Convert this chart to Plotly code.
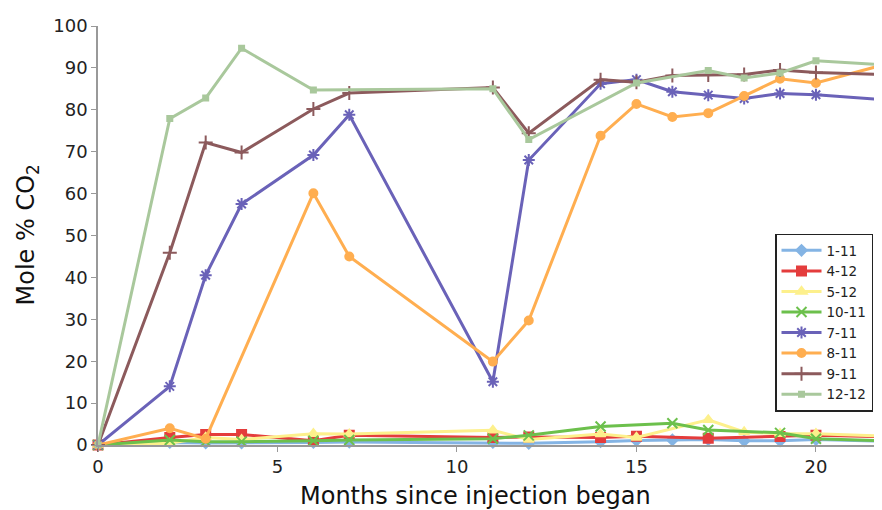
import plotly.graph_objects as go

series_names = ["1-11", "4-12", "5-12", "10-11", "7-11", "8-11", "9-11", "12-12"]

months_1_11 = [0, 2, 3, 4, 6, 7, 11, 12, 14, 15, 16, 17, 18, 19, 20, 22]
co2_1_11 = [0, 0.6, 0.5, 0.5, 0.6, 0.7, 0.6, 0.4, 0.8, 1.1, 1.2, 1.3, 1.0, 1.0, 1.3, 0.9]

months_4_12 = [0, 2, 3, 4, 6, 7, 11, 12, 14, 15, 17, 19, 20, 22]
co2_4_12 = [0, 1.8, 2.5, 2.5, 1.0, 2.3, 1.8, 1.9, 1.8, 2.1, 1.6, 2.0, 2.3, 2.0]

months_5_12 = [0, 2, 3, 4, 6, 7, 11, 12, 14, 15, 17, 18, 19, 20, 22]
co2_5_12 = [0, 0.4, 1.8, 1.3, 2.7, 2.6, 3.5, 1.3, 2.6, 1.8, 6.0, 3.1, 2.7, 2.7, 2.1]

months_10_11 = [0, 2, 3, 4, 6, 7, 11, 12, 14, 16, 17, 19, 20, 22]
co2_10_11 = [0, 1.2, 0.8, 0.8, 1.0, 1.2, 1.5, 2.3, 4.4, 5.2, 3.6, 2.9, 1.5, 1.0]

months_7_11 = [0, 2, 3, 4, 6, 7, 11, 12, 14, 15, 16, 17, 18, 19, 20, 22]
co2_7_11 = [0, 14.0, 40.5, 57.5, 69.2, 78.8, 15.1, 68.0, 86.2, 87.2, 84.3, 83.5, 82.7, 83.9, 83.6, 82.3]

months_8_11 = [0, 2, 3, 6, 7, 11, 12, 14, 15, 16, 17, 18, 19, 20, 22]
co2_8_11 = [0, 4.0, 1.5, 60.1, 45.0, 19.9, 29.7, 73.8, 81.4, 78.3, 79.2, 83.3, 87.4, 86.4, 91.0]

months_9_11 = [0, 2, 3, 4, 6, 7, 11, 12, 14, 15, 16, 17, 18, 19, 20, 22]
co2_9_11 = [0, 45.9, 72.2, 69.8, 80.2, 84.0, 85.3, 74.4, 87.2, 86.6, 88.2, 88.3, 88.4, 89.5, 88.9, 88.4]

months_12_12 = [0, 2, 3, 4, 6, 11, 12, 15, 17, 18, 19, 20, 22]
co2_12_12 = [0, 77.9, 82.8, 94.7, 84.7, 85.0, 72.9, 86.4, 89.4, 87.6, 88.8, 91.7, 90.7]

x_ticks = [0, 5, 10, 15, 20]
y_ticks = [0, 10, 20, 30, 40, 50, 60, 70, 80, 90, 100]

xs = [months_1_11, months_4_12, months_5_12, months_10_11, months_7_11, months_8_11, months_9_11, months_12_12]
ys = [co2_1_11, co2_4_12, co2_5_12, co2_10_11, co2_7_11, co2_8_11, co2_9_11, co2_12_12]

colors = ["#84b4e4", "#e43c3c", "#fdf08c", "#6cc04c", "#6a62b8", "#ffae50", "#8c5a5c", "#a9c89c"]
symbols = ["diamond", "square", "triangle-up", "x-thin-open", "asterisk-open", "circle", "cross-thin-open", "square"]
msizes = [8, 9, 9, 10, 10, 8, 10, 5]

fig = go.Figure()
for name, x, y, c, s, ms in zip(series_names, xs, ys, colors, symbols, msizes):
    fig.add_trace(go.Scatter(
        x=x, y=y, name=name, mode="lines+markers",
        line=dict(color=c, width=3),
        marker=dict(color=c, symbol=s, size=ms, line=dict(color=c, width=2)),
        cliponaxis=False,
    ))

W, H = 882, 510
ML, MR, MT, MB = 90, 8, 7, 73
pw, ph = W - ML - MR, H - MT - MB

fig.update_layout(
    width=W, height=H,
    margin=dict(l=ML, r=MR, t=MT, b=MB),
    plot_bgcolor="white", paper_bgcolor="white",
    font=dict(family="DejaVu Sans", color="#222222"),
    showlegend=True,
    legend=dict(
        x=(775 - 8 - ML) / pw, y=(MT + ph - (228 - 8)) / ph, xanchor="left", yanchor="top",
        bordercolor="#222222", borderwidth=1.5, bgcolor="white",
        font=dict(size=13.5, family="DejaVu Sans"),
        tracegroupgap=0, itemwidth=40,
    ),
    xaxis=dict(
        range=[0, 21.84], tickvals=x_ticks, ticks="outside", ticklen=5,
        tickcolor="#999999", showline=True, linecolor="#999999", linewidth=1.5,
        showgrid=False, zeroline=False, tickfont=dict(size=18),
        ticklabeloverflow="allow",
    ),
    yaxis=dict(
        range=[0, 100], tickvals=y_ticks, ticks="outside", ticklen=5,
        tickcolor="#999999", showline=True, linecolor="#999999", linewidth=1.5,
        showgrid=False, zeroline=False, tickfont=dict(size=18),
        ticklabeloverflow="allow",
    ),
    annotations=[
        dict(text="Months since injection began", x=(475 - 8 - ML) / pw, xref="paper",
             y=-(481 - 8 - (MT + ph)) / ph, yref="paper", xanchor="center", yanchor="top",
             showarrow=False, font=dict(size=24, family="DejaVu Sans", color="#111111")),
        dict(text="Mole % CO<sub>2</sub>", x=(27 - 8 - ML) / pw, xref="paper",
             y=(MT + ph - (230 - 8)) / ph, yref="paper",
             xanchor="center", yanchor="middle", textangle=-90, showarrow=False,
             font=dict(size=24, family="DejaVu Sans", color="#111111")),
    ],
)

fig.write_html("out.html")
